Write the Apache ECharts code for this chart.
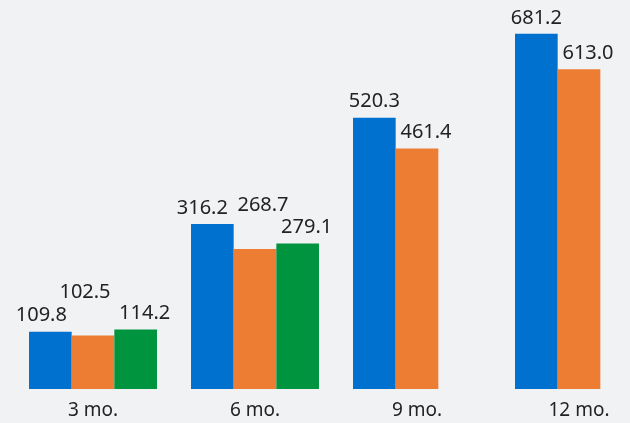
<!DOCTYPE html>
<html>
<head>
<meta charset="utf-8">
<script src="https://cdn.jsdelivr.net/npm/echarts@6/dist/echarts.min.js"></script>
<style>
html,body{margin:0;padding:0;background:#f1f2f4;}
#c{width:630px;height:423px;}
</style>
</head>
<body>
<div id="c"></div>
<script>
var categories = ['3 mo.', '6 mo.', '9 mo.', '12 mo.'];
var seriesA = [109.8, 316.2, 520.3, 681.2];
var seriesB = [102.5, 268.7, 461.4, 613.0];
var seriesC = [114.2, 279.1, null, null];

// label nudges (style only): [dx, dy] per point
var nudge = {
  a: [[-9, 0], [-10, 0], [0, 0], [0, 0]],
  b: [[-8, -27], [8, -28], [9, 0], [9, 0]],
  c: [[9, 0], [9, 0], [0, 0], [0, 0]]
};
var colors = ['#0071ce', '#ed7d32', '#00943f'];

function build(vals, nd) {
  return vals.map(function (v, i) {
    return { value: v, label: { offset: nd[i] } };
  });
}

var font = 'Noto Sans';
var chart = echarts.init(document.getElementById('c'));
var labelStyle = {
  show: true, position: 'top', distance: 6,
  fontFamily: font, fontSize: 20, color: '#222222',
  formatter: function (p) { return p.value == null ? '' : Number(p.value).toFixed(1); }
};
chart.setOption({
  backgroundColor: '#f1f2f4',
  animation: false,
  grid: { left: 12, width: 648, top: 24, height: 365, outerBoundsMode: 'none', containLabel: false },
  xAxis: {
    type: 'category', data: categories,
    axisLine: { show: false }, axisTick: { show: false },
    axisLabel: { fontFamily: font, fontSize: 19, color: '#222222', margin: 12 }
  },
  yAxis: { type: 'value', min: 0, max: 700, show: false, splitLine: { show: false } },
  series: [
    { type: 'bar', data: build(seriesA, nudge.a), itemStyle: { color: colors[0] }, barGap: '0%', barCategoryGap: '21%', label: labelStyle },
    { type: 'bar', data: build(seriesB, nudge.b), itemStyle: { color: colors[1] }, barGap: '0%', barCategoryGap: '21%', label: labelStyle },
    { type: 'bar', data: build(seriesC, nudge.c), itemStyle: { color: colors[2] }, barGap: '0%', barCategoryGap: '21%', label: labelStyle }
  ]
});
</script>
</body>
</html>
